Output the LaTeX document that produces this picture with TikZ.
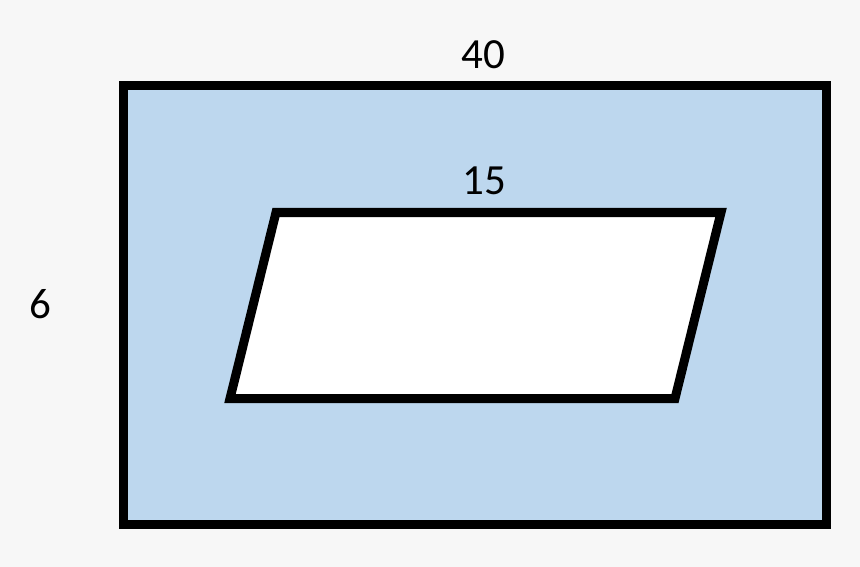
\documentclass[tikz,border=0pt]{standalone}
\usepackage{fontspec}
\setmainfont{Carlito}
\definecolor{bgc}{HTML}{F7F7F7}
\definecolor{fillblue}{HTML}{BDD7EE}
\begin{document}
\begin{tikzpicture}[x=1pt,y=-1pt,
  shapeline/.style={draw=black,line width=9pt,line join=miter},
  lbl/.style={anchor=base,inner sep=0pt,font=\fontsize{43}{50}\selectfont}]
\fill[bgc] (0,0) rectangle (860,567);
\useasboundingbox (0,0) rectangle (860,567);
\draw[shapeline,fill=fillblue] (123.5,85.5) rectangle (826.5,524.5);
\draw[shapeline,fill=white] (276,212.5) -- (721,212.5) -- (675,398.5) -- (230,398.5) -- cycle;
\node[lbl] (t40) at (483,69) {40};
\node[lbl] (t15) at (484,195) {15};
\node[lbl] (t6) at (40,318) {6};
\end{tikzpicture}
\end{document}
